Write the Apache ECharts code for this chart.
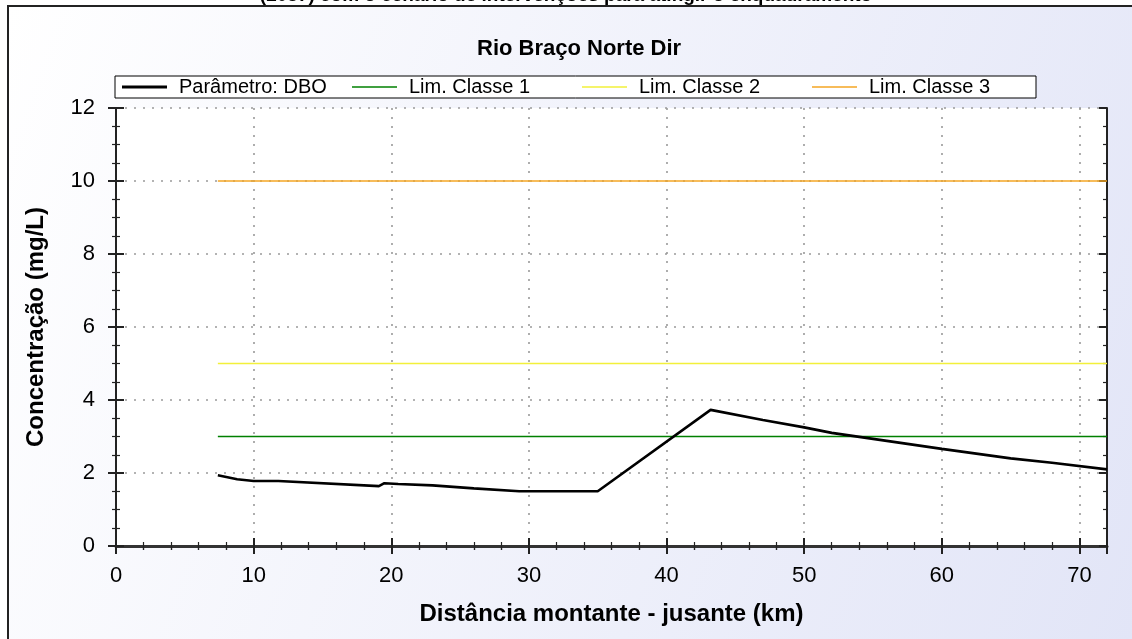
<!DOCTYPE html>
<html>
<head>
<meta charset="utf-8">
<script src="https://cdn.jsdelivr.net/npm/echarts@6/dist/echarts.min.js"></script>
<style>
html,body{margin:0;padding:0;background:#fff;}
#c{width:1132px;height:639px;}
</style>
</head>
<body>
<div id="c"></div>
<script>
// ---- data ----
const distDBO = [7.4, 8.8, 10.0, 11.8, 19.1, 19.5, 20.5, 23.0, 26.0, 29.3, 35.0, 43.2, 47.0, 50.0, 52.0, 56.0, 60.0, 65.0, 68.0, 72.0];
const dbo     = [1.94, 1.83, 1.78, 1.78, 1.64, 1.72, 1.70, 1.66, 1.58, 1.50, 1.50, 3.73, 3.45, 3.25, 3.10, 2.88, 2.66, 2.40, 2.28, 2.10];
const limX    = [7.4, 72];
const lim1    = [3, 3];
const lim2    = [5, 5];
const lim3    = [10, 10];
const seriesNames = ['Parâmetro: DBO', 'Lim. Classe 1', 'Lim. Classe 2', 'Lim. Classe 3'];
const seriesColors = ['#000000', '#008000', '#f2f03a', '#f5a623'];
const supTitle = '(2037) com o cenário de intervenções para atingir o enquadramento';
const chartTitle = 'Rio Braço Norte Dir';
const xName = 'Distância montante - jusante (km)';
const yName = 'Concentração (mg/L)';

const pairs = (xs, ys) => xs.map((x, i) => [x, ys[i]]);
const FONT = '"Liberation Sans", Arial, sans-serif';

const chart = echarts.init(document.getElementById('c'), null, {renderer: 'canvas'});

const baseAxis = {
  type: 'value', min: 0,
  axisLine: {show: true, lineStyle: {color: '#222', width: 2}, onZero: false},
  splitLine: {show: false},
  minorSplitLine: {show: false}
};
const tickOut = {show: true, inside: false, length: 8, lineStyle: {color: '#222', width: 2}};
const tickIn = {show: true, inside: true, length: 8, lineStyle: {color: '#222', width: 2}};
const minorOut = (n) => ({show: true, splitNumber: n, length: 4, lineStyle: {color: '#222', width: 1.2}});
const gridDots = {show: true, lineStyle: {color: '#9a9a9a', type: [2, 7], width: 1.6}};

const option = {
  animation: false,
  graphic: [{
    type: 'rect', z: -10, silent: true,
    shape: {x: 8, y: 6, width: 1200, height: 700},
    style: {
      fill: new echarts.graphic.LinearGradient(0, 0, 1, 0.6, [
        {offset: 0, color: '#ffffff'},
        {offset: 1, color: '#e2e5f7'}
      ]),
      stroke: '#222', lineWidth: 2
    }
  }],
  title: [
    {text: supTitle, left: 'center', top: -19,
     textStyle: {fontFamily: FONT, fontWeight: 'bold', fontSize: 19, color: '#000'}},
    {text: chartTitle, left: 472, top: 33,
     textStyle: {fontFamily: FONT, fontWeight: 'bold', fontSize: 22, color: '#000'}}
  ],
  legend: {
    left: 115, top: 76,
    orient: 'horizontal',
    itemWidth: 45, itemHeight: 12, itemGap: 13,
    padding: [0, 7, 0, 7],
    borderColor: '#000', borderWidth: 1, backgroundColor: '#fff',
    data: seriesNames.map((n, i) => ({
      name: n,
      icon: i === 0 ? 'path://M0,0h45v3h-45z' : 'path://M0,0h45v1.5h-45z'
    })),
    textStyle: {fontFamily: FONT, fontSize: 20, color: '#000', width: 160, padding: [0, 0, 0, 7], lineHeight: 22}
  },
  grid: {left: 116, top: 108, width: 991, height: 438, backgroundColor: '#fff', show: true, borderWidth: 0},
  xAxis: [
    Object.assign({}, baseAxis, {
      max: 72, interval: 10, position: 'bottom',
      name: xName, nameLocation: 'middle', nameGap: 56,
      nameTextStyle: {fontFamily: FONT, fontWeight: 'bold', fontSize: 24, color: '#000'},
      axisLabel: {fontFamily: FONT, fontSize: 22, color: '#000', margin: 19, showMaxLabel: false},
      axisTick: tickOut, minorTick: minorOut(5), splitLine: gridDots
    }),
    Object.assign({}, baseAxis, {
      max: 72, interval: 10, position: 'bottom', gridIndex: 0,
      axisLabel: {show: false}, axisTick: tickIn, minorTick: minorOut(5)
    }),
    Object.assign({}, baseAxis, {
      max: 72, interval: 10, position: 'top', gridIndex: 0,
      axisLine: {show: true, lineStyle: {color: '#333', width: 3}},
      axisLabel: {show: false}, axisTick: tickIn, minorTick: minorOut(5)
    })
  ],
  yAxis: [
    Object.assign({}, baseAxis, {
      max: 12, interval: 2, position: 'left',
      name: yName, nameLocation: 'middle', nameGap: 68,
      nameTextStyle: {fontFamily: FONT, fontWeight: 'bold', fontSize: 24, color: '#000'},
      axisLabel: {fontFamily: FONT, fontSize: 22, color: '#000', margin: 21},
      axisTick: tickOut, minorTick: minorOut(4), splitLine: gridDots
    }),
    Object.assign({}, baseAxis, {
      max: 12, interval: 2, position: 'left', gridIndex: 0,
      axisLabel: {show: false}, axisTick: tickIn, minorTick: minorOut(4)
    }),
    Object.assign({}, baseAxis, {
      max: 12, interval: 2, position: 'right', gridIndex: 0,
      axisLabel: {show: false}, axisTick: tickIn, minorTick: minorOut(4)
    })
  ],
  series: [
    {name: seriesNames[0], type: 'line', data: pairs(distDBO, dbo), symbol: 'none',
     z: 10, lineStyle: {color: seriesColors[0], width: 2.6}, itemStyle: {color: seriesColors[0]}},
    {name: seriesNames[1], type: 'line', data: pairs(limX, lim1), symbol: 'none',
     z: 5, lineStyle: {color: seriesColors[1], width: 1.6}, itemStyle: {color: seriesColors[1]}},
    {name: seriesNames[2], type: 'line', data: pairs(limX, lim2), symbol: 'none',
     z: 5, lineStyle: {color: seriesColors[2], width: 1.6}, itemStyle: {color: seriesColors[2]}},
    {name: seriesNames[3], type: 'line', data: pairs(limX, lim3), symbol: 'none',
     z: 5, lineStyle: {color: seriesColors[3], width: 1.6}, itemStyle: {color: seriesColors[3]}}
  ]
};
chart.setOption(option);
</script>
</body>
</html>
